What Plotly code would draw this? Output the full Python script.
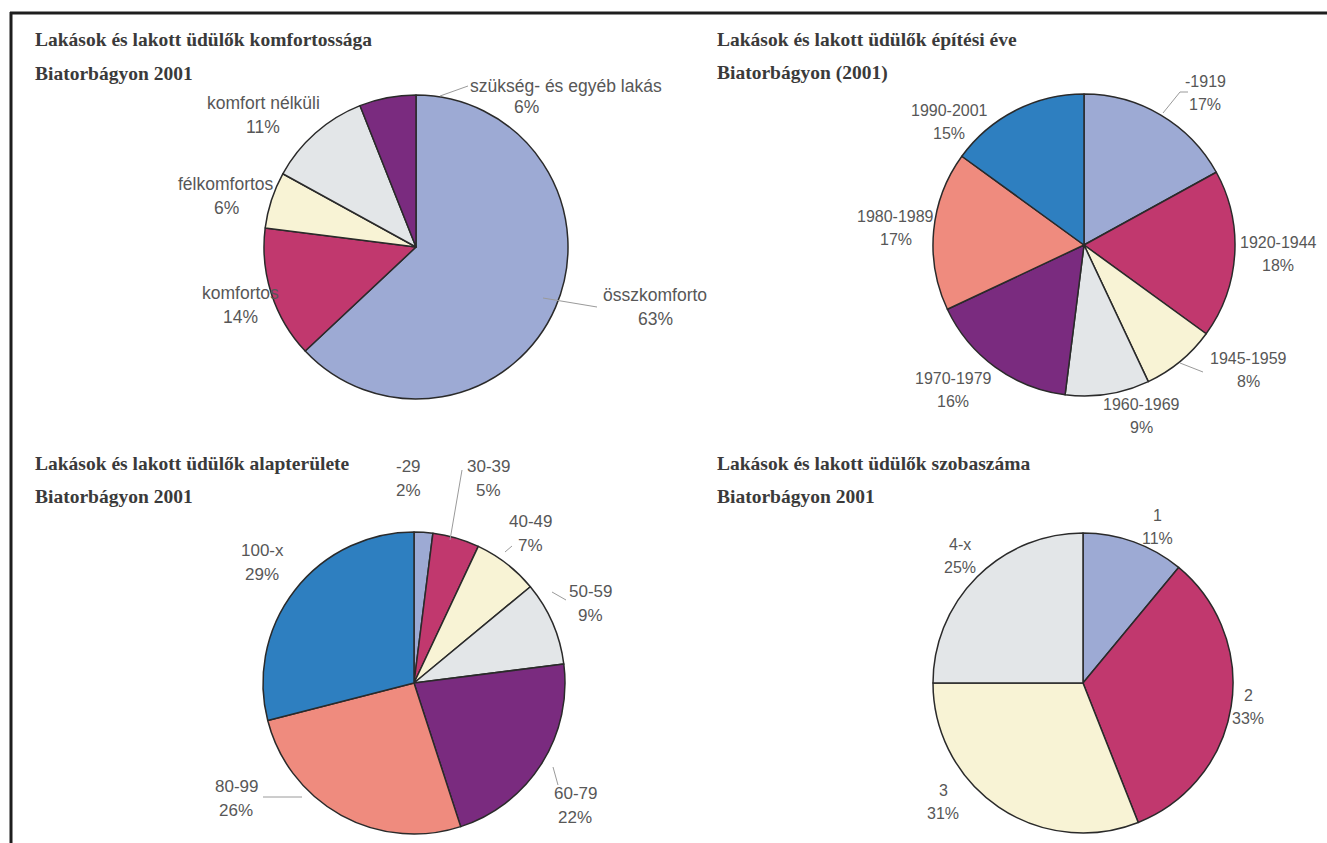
import plotly.graph_objects as go

W, H = 1327, 843

# ---------------- data ----------------
komfort_labels = ["összkomforto", "komfortos", "félkomfortos", "komfort nélküli", "szükség- és egyéb lakás"]
komfort_values = [63, 14, 6, 11, 6]

epites_labels = ["-1919", "1920-1944", "1945-1959", "1960-1969", "1970-1979", "1980-1989", "1990-2001"]
epites_values = [17, 18, 8, 9, 16, 17, 15]

alapterulet_labels = ["-29", "30-39", "40-49", "50-59", "60-79", "80-99", "100-x"]
alapterulet_values = [2, 5, 7, 9, 22, 26, 29]

szoba_labels = ["1", "2", "3", "4-x"]
szoba_values = [11, 33, 31, 25]

titles = [
    ["Lakások és lakott üdülők komfortossága", "Biatorbágyon 2001"],
    ["Lakások és lakott üdülők építési éve", "Biatorbágyon (2001)"],
    ["Lakások és lakott üdülők alapterülete", "Biatorbágyon 2001"],
    ["Lakások és lakott üdülők szobaszáma", "Biatorbágyon 2001"],
]

# ---------------- styles / layout ----------------
palette = ["#9DAAD4", "#C1386E", "#F8F3D5", "#E3E6E8", "#7A2B7F", "#EF8B7E", "#2E7FC0"]
label_sizes = [17.5, 16, 17, 16]
label_gaps = [24.5, 23, 24, 23]
label_color = "#575757"
title_font = dict(family="Liberation Serif", size=19.5, color="#3a3a3a", weight="bold")

# pie geometry in pixels (center x, center y, radius)
pie_geom = [(416, 247, 152), (1084, 245, 151), (414, 683, 151), (1083, 683, 150)]
title_pos = [(33, 40), (715, 40), (33, 463), (715, 463)]

# label block centres (pixels) for each slice, per pie
label_pos = [
    [(655, 307), (240, 305), (226, 196), (263, 115), None],
    [(1205, 93), (1278, 254), (1248, 370), (1141, 416), (953, 390), (896, 228), (949, 122)],
    [(408, 478), (488, 478), (530, 533), (590, 603), (575, 805), (236, 798), (262, 562)],
    [(1157, 527), (1248, 707), (943, 802), (960, 556)],
]

# leader lines (pixel polylines)
leaders = [
    [(440, 96), (468, 86)],
    [(543, 298), (597, 307)],
    [(1163, 113), (1180, 92), (1188, 92)],
    [(1180, 363), (1203, 372)],
    [(450, 540), (462, 470)],
    [(505, 552), (512, 546)],
    [(552, 592), (566, 600)],
    [(553, 767), (558, 785)],
    [(263, 797), (302, 797)],
]


def pxx(x):
    return x / W


def pxy(y):
    return 1 - y / H


datasets = [
    (komfort_labels, komfort_values),
    (epites_labels, epites_values),
    (alapterulet_labels, alapterulet_values),
    (szoba_labels, szoba_values),
]

fig = go.Figure()
annotations = []
shapes = []

for i, (labels, values) in enumerate(datasets):
    cx, cy, r = pie_geom[i]
    fig.add_trace(go.Pie(
        labels=labels,
        values=values,
        sort=False,
        direction="clockwise",
        rotation=0,
        textinfo="none",
        hoverinfo="label+percent",
        marker=dict(colors=palette[:len(values)], line=dict(color="#2a2a2a", width=1.5)),
        domain=dict(x=[pxx(cx - r), pxx(cx + r)], y=[pxy(cy + r), pxy(cy - r)]),
        showlegend=False,
    ))
    tx, ty = title_pos[i]
    for k, line in enumerate(titles[i]):
        annotations.append(dict(
            x=pxx(tx), y=pxy(ty + k * 33), xref="paper", yref="paper",
            xanchor="left", yanchor="middle", showarrow=False, text=line, font=title_font,
        ))
    lf = dict(family="Liberation Sans", size=label_sizes[i], color=label_color)
    g = label_gaps[i] / 2
    for j, (lab, val) in enumerate(zip(labels, values)):
        pos = label_pos[i][j]
        if pos is None:
            continue
        lx, ly = pos
        annotations.append(dict(x=pxx(lx), y=pxy(ly - g), xref="paper", yref="paper",
                                showarrow=False, text=lab, xanchor="center", yanchor="middle", font=lf))
        annotations.append(dict(x=pxx(lx), y=pxy(ly + g), xref="paper", yref="paper",
                                showarrow=False, text=f"{val}%", xanchor="center", yanchor="middle", font=lf))

# left-aligned label (szükség- és egyéb lakás)
lf1 = dict(family="Liberation Sans", size=label_sizes[0], color=label_color)
annotations.append(dict(x=pxx(468), y=pxy(86), xref="paper", yref="paper", showarrow=False,
                        text=komfort_labels[4], xanchor="left", yanchor="middle", font=lf1))
annotations.append(dict(x=pxx(512), y=pxy(107), xref="paper", yref="paper", showarrow=False,
                        text=f"{komfort_values[4]}%", xanchor="left", yanchor="middle", font=lf1))

for pts in leaders:
    for a, b in zip(pts[:-1], pts[1:]):
        shapes.append(dict(type="line", xref="paper", yref="paper",
                           x0=pxx(a[0]), y0=pxy(a[1]), x1=pxx(b[0]), y1=pxy(b[1]),
                           line=dict(color="#9a9a9a", width=1)))

# frame (top and left)
shapes.append(dict(type="line", xref="paper", yref="paper", x0=pxx(10), y0=pxy(13), x1=1, y1=pxy(13),
                   line=dict(color="#1e1e1e", width=3)))
shapes.append(dict(type="line", xref="paper", yref="paper", x0=pxx(11), y0=pxy(12), x1=pxx(11), y1=0,
                   line=dict(color="#1e1e1e", width=3)))

fig.update_layout(
    width=W, height=H,
    margin=dict(l=0, r=0, t=0, b=0),
    paper_bgcolor="white", plot_bgcolor="white",
    annotations=annotations, shapes=shapes,
)

fig.write_html("out.html", config={"displayModeBar": False},
               post_script="document.body.style.margin='0px';document.body.style.overflow='hidden';")
